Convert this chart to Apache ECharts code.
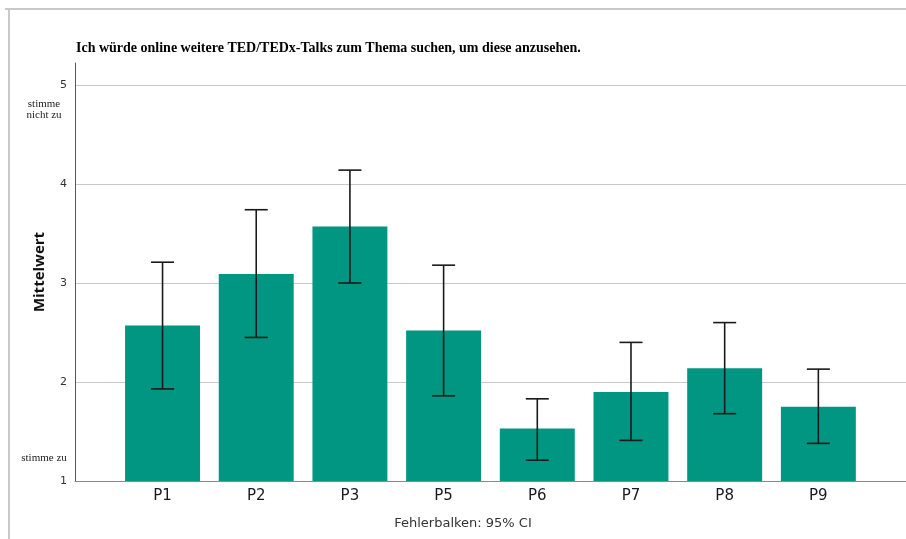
<!DOCTYPE html>
<html>
<head>
<meta charset="utf-8">
<script src="https://cdn.jsdelivr.net/npm/echarts@6/dist/echarts.min.js"></script>
<style>
  html, body { margin: 0; padding: 0; background: #fff; }
  #chart { width: 906px; height: 539px; }
</style>
</head>
<body>
<div id="chart"></div>
<script>
// Mean agreement per participant with 95% confidence intervals
const categories = ['P1', 'P2', 'P3', 'P5', 'P6', 'P7', 'P8', 'P9'];
const means  = [2.57, 3.09, 3.57, 2.52, 1.53, 1.90, 2.14, 1.75];
const ciLow  = [1.93, 2.45, 3.00, 1.86, 1.21, 1.41, 1.68, 1.38];
const ciHigh = [3.21, 3.74, 4.14, 3.18, 1.83, 2.40, 2.60, 2.13];
const yTicks = [1, 2, 3, 4, 5];

const titleText = 'Ich würde online weitere TED/TEDx-Talks zum Thema suchen, um diese anzusehen.';
const footText = 'Fehlerbalken: 95% CI';

const chart = echarts.init(document.getElementById('chart'), null, { renderer: 'canvas' });

const yMin = 1, yMax = 5.222;
const gridTop = 63, gridBottom = 58;

const option = {
  backgroundColor: '#ffffff',
  animation: false,
  title: {
    text: titleText,
    left: 71,
    top: 36,
    textStyle: { fontFamily: 'Liberation Serif', fontWeight: 'bold', fontSize: 14, color: '#000' }
  },
  grid: [
    { left: 75, right: 0, top: gridTop, bottom: gridBottom },
    { left: 115.7, right: 40.8, top: gridTop, bottom: gridBottom }
  ],
  xAxis: [
    {
      gridIndex: 0, type: 'value', min: 0, max: 1,
      axisLine: { show: true, onZero: false, lineStyle: { color: '#8a8a8a', width: 1 } },
      axisTick: { show: false }, axisLabel: { show: false }, splitLine: { show: false }
    },
    {
      gridIndex: 1, type: 'category', data: categories,
      axisLine: { show: false }, axisTick: { show: false },
      axisLabel: { fontFamily: 'DejaVu Sans', fontSize: 15, color: '#1a1a1a', margin: 8 }
    }
  ],
  yAxis: [
    {
      gridIndex: 0, type: 'value', min: yMin, max: yMax, interval: 1,
      name: 'Mittelwert', nameLocation: 'middle', nameGap: 28,
      nameTextStyle: { fontFamily: 'Open Sans', fontWeight: 'bold', fontSize: 15, color: '#111' },
      axisLine: { show: true, lineStyle: { color: '#555', width: 1 } },
      axisTick: { show: false },
      axisLabel: {
        fontFamily: 'DejaVu Sans', fontSize: 11, color: '#333', margin: 8,
        showMaxLabel: false,
        formatter: v => (yTicks.indexOf(v) >= 0 ? String(v) : '')
      },
      splitLine: { show: true, showMaxLine: false, showMinLine: false, lineStyle: { color: '#c9c9c9', width: 1.2 } }
    },
    {
      gridIndex: 1, type: 'value', min: yMin, max: yMax, interval: 1, show: false
    }
  ],
  graphic: [
    { type: 'line', shape: { x1: 5, y1: 9, x2: 906, y2: 9 }, style: { stroke: '#c8c8c8', lineWidth: 2 } },
    { type: 'line', shape: { x1: 9, y1: 9, x2: 9, y2: 539 }, style: { stroke: '#c8c8c8', lineWidth: 2 } },
    {
      type: 'text', x: 44, y: 110,
      style: { text: 'stimme\nnicht zu', align: 'center', verticalAlign: 'middle', lineHeight: 11,
               font: '11px "Liberation Serif"', fill: '#222' }
    },
    {
      type: 'text', x: 44, y: 458,
      style: { text: 'stimme zu', align: 'center', verticalAlign: 'middle',
               font: '11px "Liberation Serif"', fill: '#222' }
    },
    {
      type: 'text', x: 463, y: 524,
      style: { text: footText, align: 'center', verticalAlign: 'middle',
               font: '13px "DejaVu Sans"', fill: '#333' }
    }
  ],
  series: [
    {
      type: 'bar', xAxisIndex: 1, yAxisIndex: 1,
      data: means, barWidth: '80%',
      itemStyle: { color: '#009682' }
    },
    {
      type: 'custom', xAxisIndex: 1, yAxisIndex: 1,
      data: categories.map((c, i) => [i, ciHigh[i], ciLow[i]]),
      renderItem: (params, api) => {
        const top = api.coord([api.value(0), api.value(1)]);
        const bot = api.coord([api.value(0), api.value(2)]);
        const hw = 11.5;
        const style = { stroke: '#1a1a1a', lineWidth: 1.6 };
        return {
          type: 'group',
          children: [
            { type: 'line', shape: { x1: top[0], y1: top[1], x2: bot[0], y2: bot[1] }, style },
            { type: 'line', shape: { x1: top[0] - hw, y1: top[1], x2: top[0] + hw, y2: top[1] }, style },
            { type: 'line', shape: { x1: bot[0] - hw, y1: bot[1], x2: bot[0] + hw, y2: bot[1] }, style }
          ]
        };
      },
      z: 5
    }
  ]
};

chart.setOption(option);
</script>
</body>
</html>
